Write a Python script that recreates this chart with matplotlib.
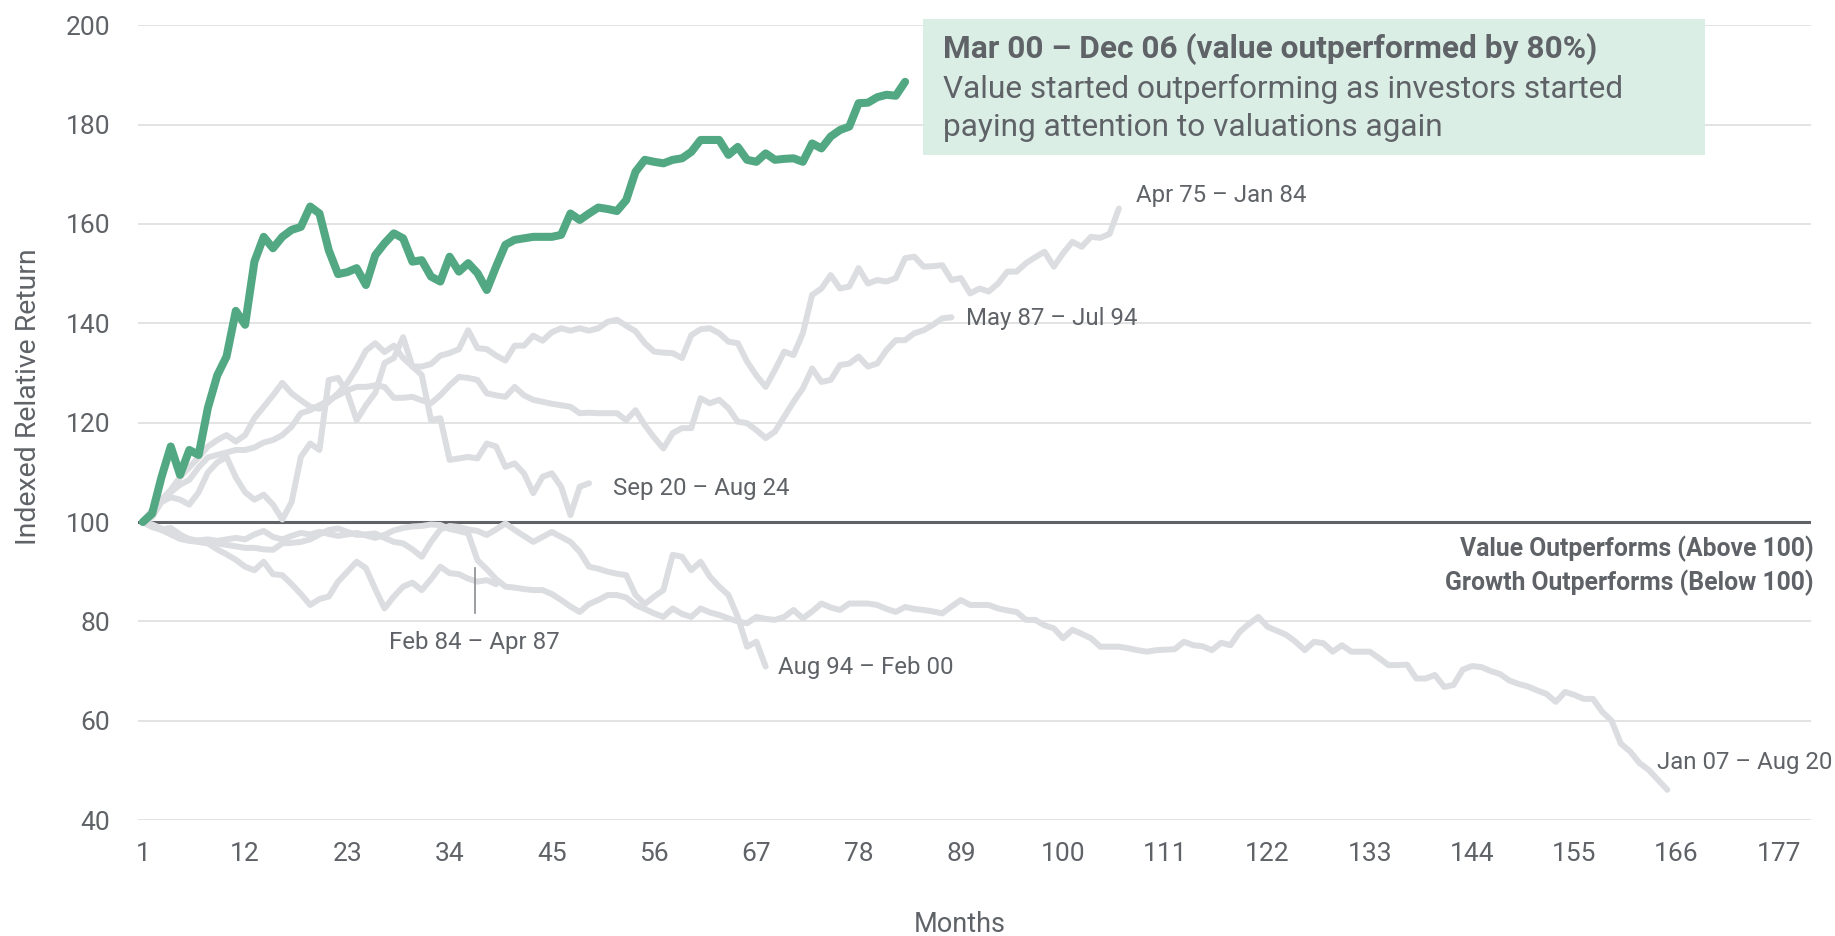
import matplotlib
matplotlib.use('Agg')
import matplotlib.pyplot as plt
from matplotlib.patches import Rectangle

plt.rcParams['font.family'] = ['Roboto', 'DejaVu Sans']

TEXT = '#5f6368'
GREEN = '#52a882'
GREY = '#dcdde0'

# indexed relative return (value vs growth), month 1 = 100
mar00_dec06 = [100, 101.7, 109, 115.2, 109.5, 114.5, 113.5, 123, 129.5, 133.3,
               142.5, 139.7, 152.4, 157.4, 155.1, 157.4, 158.8, 159.4, 163.5, 162.1,
               154.7, 149.9, 150.3, 151.1, 147.7, 153.7, 156.1, 158.1, 157.1, 152.4,
               152.7, 149.4, 148.4, 153.4, 150.4, 152.1, 150.1, 146.7, 151.4, 155.8,
               156.8, 157.1, 157.4, 157.4, 157.4, 157.8, 162.1, 160.8, 162.1, 163.3,
               163.0, 162.6, 164.8, 170.5, 172.9, 172.5, 172.2, 172.9, 173.2, 174.5,
               176.9, 176.9, 176.9, 173.9, 175.5, 172.9, 172.5, 174.2, 172.9, 173.1,
               173.2, 172.5, 176.2, 175.2, 177.6, 178.9, 179.6, 184.3, 184.4, 185.5,
               186.0, 185.8, 188.6]

apr75_jan84 = [100, 102.5, 104.5, 106.5, 109, 111, 113, 115.2, 116.5, 117.5,
               116.2, 117.5, 120.9, 123.2, 125.5, 128, 125.9, 124.5, 123.2, 122.8,
               124.2, 125.9, 128, 131, 134.5, 136, 134.2, 135.5, 133, 131.3,
               131.3, 131.8, 133.5, 134, 134.8, 138.6, 135, 134.8, 133.5, 132.5,
               135.5, 135.5, 137.5, 136.5, 138.2, 139, 138.5, 139, 138.5, 139,
               140.3, 140.7, 139.5, 138.4, 136, 134.3, 134.1, 134, 133, 137.6,
               138.8, 139, 138, 136.3, 136, 132.3, 129.5, 127.2, 130.6, 134.3,
               133.6, 138, 145.7, 147, 149.7, 147, 147.4, 151.1, 148, 148.7,
               148.4, 149.1, 153.1, 153.4, 151.4, 151.5, 151.7, 148.7, 149.1, 146,
               147, 146.4, 148, 150.4, 150.4, 152.1, 153.3, 154.4, 151.4, 154.1,
               156.4, 155.4, 157.4, 157.2, 158, 163.1]

may87_jul94 = [100, 102, 104.5, 106, 107.5, 108.5, 111, 113, 113.5, 114,
               114.5, 114.5, 115, 116, 116.5, 117.5, 119.2, 121.9, 122.5, 123.5,
               124.5, 125.5, 126.5, 127.2, 127.2, 127.5, 127.2, 125, 125, 125.2,
               124.5, 123.9, 125.5, 127.5, 129.2, 129, 128.6, 125.9, 125.5, 125.2,
               127.2, 125.5, 124.6, 124.2, 123.8, 123.5, 123.2, 121.9, 122, 121.9,
               121.9, 121.9, 120.5, 122.5, 119.5, 117, 114.8, 117.9, 118.9, 118.9,
               124.9, 123.9, 124.6, 122.9, 120.2, 119.9, 118.5, 116.9, 118.2, 121.2,
               124.2, 126.9, 130.9, 128.2, 128.6, 131.6, 131.9, 133.3, 131.3, 131.9,
               134.6, 136.6, 136.6, 138, 138.6, 139.7, 141, 141.2]

sep20_aug24 = [100, 101, 104, 105, 104.5, 103.5, 106, 110, 112, 113.1,
               109, 106, 104.5, 105.5, 103.5, 100.5, 104, 113.1, 115.8, 114.5,
               128.6, 129, 126, 120.5, 123.5, 126, 132, 133, 137.2, 131.3,
               129.6, 120.5, 120.9, 112.5, 112.8, 113.1, 112.8, 115.8, 115.2, 111.1,
               111.8, 109.8, 105.8, 109.1, 109.8, 107.1, 101.4, 107.1, 107.8]

feb84_apr87 = [100, 99.5, 98.7, 98, 97.2, 96.6, 96, 95.7, 94.5, 93.5,
               92.4, 91, 90.3, 92, 89.5, 89.3, 87.5, 85.5, 83.3, 84.5,
               85, 88, 90, 92, 90.7, 86.5, 82.6, 85, 87, 87.8,
               86.3, 88.5, 91, 89.7, 89.5, 88.6, 88, 88.3, 87.5]

aug94_feb00 = [100, 99, 98.4, 97.5, 96.6, 96.2, 96, 95.8, 95.7, 95.4,
               95.1, 94.8, 94.8, 94.5, 94.4, 95.7, 95.8, 96, 96.5, 97.5,
               98.4, 98.7, 98, 97.4, 97.5, 97.7, 96.8, 96, 95.7, 94.5,
               93, 96, 98.5, 99.2, 99, 98.5, 98.2, 97.4, 98.5, 99.7,
               98.4, 97.2, 96, 97, 98, 97, 96, 94, 91, 90.6,
               90, 89.6, 89.3, 85.3, 83.5, 85, 86.3, 93.4, 93, 90.3,
               92, 89, 87, 85.3, 80.9, 74.9, 75.9, 70.9]

jan07_aug20 = [100, 99, 98.5, 98.8, 97.5, 96.5, 96.3, 96.5, 96.2, 96.5,
               96.8, 96.5, 97.5, 98.2, 97, 96.5, 97.2, 97.8, 97.5, 98,
               97.6, 97.2, 97.5, 97.8, 97.3, 96.8, 97.4, 98.3, 98.8, 99.1,
               99.2, 99.5, 99.4, 98.6, 98.2, 97.7, 92.3, 90.5, 88.5, 87,
               86.8, 86.5, 86.3, 86.3, 85.5, 84.3, 83, 81.9, 83.5, 84.3,
               85.3, 85.3, 84.8, 83.3, 82.5, 81.6, 80.9, 82.6, 81.5, 80.9,
               82.6, 81.8, 81.3, 80.6, 80, 79.6, 80.9, 80.5, 80.3, 80.9,
               82.3, 80.6, 82, 83.6, 82.8, 82.3, 83.6, 83.6, 83.6, 83.3,
               82.5, 81.9, 82.9, 82.5, 82.3, 82, 81.6, 83, 84.3, 83.3,
               83.3, 83.3, 82.6, 82.2, 81.9, 80.3, 80.3, 79.2, 78.6, 76.6,
               78.3, 77.5, 76.6, 74.9, 74.9, 74.9, 74.6, 74.2, 73.9, 74.2,
               74.3, 74.4, 75.9, 75.2, 75, 74.2, 75.7, 75.2, 77.9, 79.5,
               80.9, 78.9, 78.1, 77.3, 75.9, 74.2, 75.9, 75.6, 73.9, 75.2,
               73.9, 73.9, 73.9, 72.6, 71.2, 71.2, 71.3, 68.5, 68.5, 69.2,
               66.8, 67.2, 70.3, 71, 70.8, 70, 69.4, 68.1, 67.4, 66.9,
               66.1, 65.4, 63.8, 65.8, 65.2, 64.4, 64.4, 61.8, 60, 55.4,
               53.8, 51.5, 50.1, 48.1, 46.1]

grey_series = [
    ('Apr 75 – Jan 84', apr75_jan84),
    ('May 87 – Jul 94', may87_jul94),
    ('Sep 20 – Aug 24', sep20_aug24),
    ('Feb 84 – Apr 87', feb84_apr87),
    ('Aug 94 – Feb 00', aug94_feb00),
    ('Jan 07 – Aug 20', jan07_aug20),
]

# label placement (data coords, left edge / vertical centre)
label_pos = {
    'Apr 75 – Jan 84': (107.8, 165.7, 'left'),
    'May 87 – Jul 94': (89.6, 141.0, 'left'),
    'Sep 20 – Aug 24': (51.6, 106.8, 'left'),
    'Feb 84 – Apr 87': (36.7, 75.7, 'center'),
    'Aug 94 – Feb 00': (69.3, 70.8, 'left'),
    'Jan 07 – Aug 20': (163.9, 51.5, 'left'),
}

x_ticks = list(range(1, 178, 11))
y_ticks = list(range(40, 201, 20))

fig = plt.figure(figsize=(18.35, 9.36), dpi=100)
ax = fig.add_axes([138.2 / 1835, 1 - 820.1 / 936, (1811.4 - 138.2) / 1835, (820.1 - 25.2) / 936])

ax.set_xlim(0.5, 180.5)
ax.set_ylim(40, 200)
for y in y_ticks:
    if y != 100:
        ax.axhline(y, color='#e0e0e0', lw=1.3, zorder=0)
ax.axhline(100, color='#5f6368', lw=2.2, zorder=1)

for name, vals in grey_series:
    ax.plot(range(1, len(vals) + 1), vals, color=GREY, lw=4.3,
            solid_joinstyle='round', solid_capstyle='round', zorder=2)
    lx, ly, ha = label_pos[name]
    ax.text(lx, ly, name, fontsize=17.3, color=TEXT, ha=ha, va='center', zorder=5)

ax.plot(range(1, len(mar00_dec06) + 1), mar00_dec06, color=GREEN, lw=5.8,
        solid_joinstyle='round', solid_capstyle='round', zorder=4)

# leader for the Feb 84 label
ax.plot([36.7, 36.7], [81.6, 90.7], color='#8a8d91', lw=1.2, zorder=3)

ax.text(180.7, 94.6, 'Value Outperforms (Above 100)', fontsize=17.8, fontweight='bold',
        color=TEXT, ha='right', va='center')
ax.text(180.7, 87.8, 'Growth Outperforms (Below 100)', fontsize=17.8, fontweight='bold',
        color=TEXT, ha='right', va='center')

ax.set_xticks(x_ticks)
ax.set_yticks(y_ticks)
ax.tick_params(length=0, labelsize=19, labelcolor=TEXT)
ax.tick_params(axis='y', pad=20)
ax.tick_params(axis='x', pad=16)
for s in ax.spines.values():
    s.set_visible(False)

fig.text(959.6 / 1835, 1 - 924.5 / 936, 'Months', fontsize=19.5, color=TEXT, ha='center', va='center')
fig.text(29 / 1835, 1 - 397 / 936, 'Indexed Relative Return', fontsize=20.5, color=TEXT,
         ha='center', va='center', rotation=90)

# callout box
fig.patches.append(Rectangle((923 / 1835, 1 - 154.5 / 936), 782 / 1835, 135.8 / 936,
                             transform=fig.transFigure, facecolor='#dbeee5', edgecolor='none', zorder=3))
fig.text(943 / 1835, 1 - 49 / 936, 'Mar 00 – Dec 06 (value outperformed by 80%)', fontsize=22.8,
         fontweight='bold', color=TEXT, ha='left', va='center', zorder=6)
fig.text(943 / 1835, 1 - 89.5 / 936, 'Value started outperforming as investors started', fontsize=22.8,
         color=TEXT, ha='left', va='center', zorder=6)
fig.text(943 / 1835, 1 - 127.5 / 936, 'paying attention to valuations again', fontsize=22.8,
         color=TEXT, ha='left', va='center', zorder=6)

fig.savefig('out.png', dpi=100)
